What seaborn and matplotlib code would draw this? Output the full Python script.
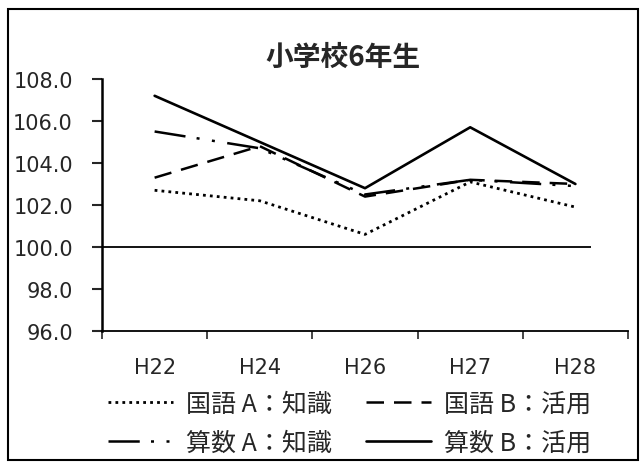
import matplotlib
matplotlib.use("Agg")
import matplotlib.pyplot as plt
from matplotlib.patches import Rectangle
import seaborn as sns
import pandas as pd

# data
years = ["H22", "H24", "H26", "H27", "H28"]
kokugo_a = [102.7, 102.2, 100.6, 103.1, 101.9]
kokugo_b = [103.3, 104.8, 102.4, 103.2, 103.0]
sansu_a = [105.5, 104.7, 102.5, 103.2, 102.9]
sansu_b = [107.2, 105.0, 102.8, 105.7, 103.0]
series_names = ["国語 A：知識", "国語 B：活用", "算数 A：知識", "算数 B：活用"]
baseline = 100.0
y_ticks = [96, 98, 100, 102, 104, 106, 108]

sns.set_style("white")
plt.rcParams['font.family'] = ['DejaVu Sans', 'Noto Sans CJK JP']

rows = []
for name, vals in zip(series_names, [kokugo_a, kokugo_b, sansu_a, sansu_b]):
    for i, v in enumerate(vals):
        rows.append({"idx": i, "year": years[i], "value": v, "series": name})
df = pd.DataFrame(rows)

dashes = {
    series_names[0]: (1, 1.5),
    series_names[1]: (7, 4),
    series_names[2]: (12.5, 4.5, 1.2, 5, 1.2, 5),
    series_names[3]: "",
}
widths = {series_names[0]: 2.0, series_names[1]: 1.8,
          series_names[2]: 1.8, series_names[3]: 1.9}

fig = plt.figure(figsize=(6.42, 4.64), dpi=100)
ax = fig.add_axes([0.1589, 0.2845, 0.8193, 0.5431])

sns.lineplot(data=df, x="idx", y="value", hue="series", style="series",
             palette=["black"] * 4, dashes=dashes, legend=False, ax=ax,
             hue_order=series_names, style_order=series_names)
for line, name in zip(ax.lines, series_names):
    line.set_linewidth(widths[name])
    line.set_dash_capstyle("butt")

ax.hlines(baseline, -0.5, 4.15, color="black", lw=1.3)

ax.set_xlim(-0.5, 4.5)
ax.set_ylim(96, 108)
ax.set_xticks([i - 0.5 for i in range(len(years) + 1)])
ax.set_xticklabels([])
ax.set_xticks(range(len(years)), minor=True)
ax.set_xticklabels(years, minor=True)
ax.set_yticks(y_ticks)
ax.set_yticklabels([f"{t:.1f}" for t in y_ticks])
ax.tick_params(axis="x", which="major", direction="out", length=6, width=1.2, bottom=True)
ax.tick_params(axis="x", which="minor", length=0, pad=19, labelsize=15)
ax.tick_params(axis="y", direction="out", length=7, width=1.5, pad=14, labelsize=15, left=True)
ax.set_xlabel("")
ax.set_ylabel("")

sns.despine(ax=ax)
ax.spines["left"].set_linewidth(1.8)
ax.spines["bottom"].set_linewidth(1.3)
ax.spines["left"].set_color("black")
ax.spines["bottom"].set_color("black")

fig.text(343 / 642, 1 - 58 / 464, "小学校6年生", ha="center", va="center",
         fontsize=20, fontweight="bold", family=['Noto Sans CJK JP', 'DejaVu Sans'])

lines = ax.lines[:4]
handles = [lines[0], lines[2], lines[1], lines[3]]
labels = [series_names[0], series_names[2], series_names[1], series_names[3]]
leg = fig.legend(handles, labels, ncol=2, loc="upper left",
                 bbox_to_anchor=(108 / 642, 1 - 392 / 464), frameon=False,
                 handlelength=2.6, handletextpad=0.5, columnspacing=1.4,
                 labelspacing=0.5, borderaxespad=0, borderpad=0,
                 prop={'family': ['Noto Sans CJK JP', 'DejaVu Sans'], 'size': 18})

fig.patches.append(Rectangle((8 / 642, 3 / 464), 630 / 642, 451 / 464,
                             transform=fig.transFigure, fill=False,
                             edgecolor="black", lw=1.5))

fig.savefig("out.png", dpi=100)
